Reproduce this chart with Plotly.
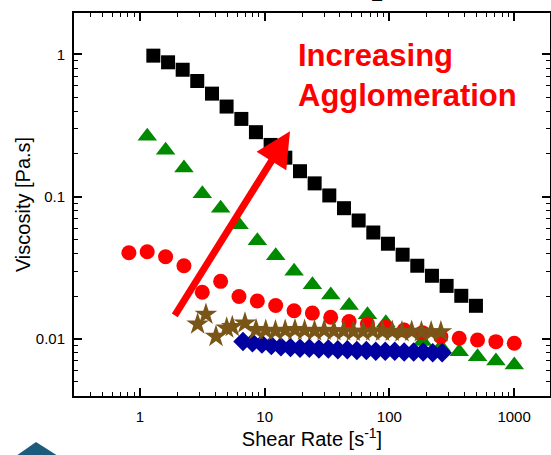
import numpy as np
import plotly.graph_objects as go

# ---------------- data ----------------
black_x = [1.28, 1.68, 2.20, 2.88, 3.78, 4.95, 6.50, 8.51, 11.16, 14.64, 19.19, 25.16,
           32.98, 43.24, 56.7, 74.3, 97.4, 127.7, 167.4, 219.5, 287.7, 377.2, 494.5]
black_y = [0.98, 0.88, 0.78, 0.65, 0.53, 0.43, 0.352, 0.284, 0.231, 0.188, 0.151, 0.124,
           0.102, 0.083, 0.068, 0.056, 0.0467, 0.0391, 0.0327, 0.0278, 0.0236, 0.0201, 0.0171]

green_x = [1.144, 1.606, 2.254, 3.162, 4.437, 6.228, 8.739, 12.26, 17.21, 24.15, 33.88,
           47.56, 66.73, 93.65, 131.4, 184.4, 258.9, 363.2, 509.6, 715.2, 1003.5]
green_y = [0.266, 0.212, 0.159, 0.105, 0.083, 0.0635, 0.049, 0.0385, 0.0299, 0.024, 0.0204,
           0.0172, 0.0148, 0.0130, 0.0114, 0.0096, 0.0088, 0.00814, 0.0075, 0.0070, 0.00656]

red_x = [0.815, 1.143, 1.605, 2.252, 3.159, 4.434, 6.222, 8.732, 12.25, 17.20, 24.13, 33.86,
         47.52, 66.68, 93.57, 131.3, 184.2, 258.6, 362.9, 509.2, 714.5, 1002.8]
red_y = [0.0404, 0.041, 0.0378, 0.0327, 0.0213, 0.0254, 0.0199, 0.0185, 0.0172, 0.0158,
         0.0152, 0.0142, 0.01324, 0.01276, 0.01208, 0.01157, 0.01107, 0.01038, 0.01011,
         0.00984, 0.00957, 0.00933]

star_x = [2.90, 3.38, 4.07, 4.96, 5.5, 6.95, 8.53, 10.2, 12.2, 14.6, 17.5, 20.9, 25.1, 30.0,
          35.9, 43.0, 51.4, 61.5, 73.6, 88.1, 105.4, 126.2, 151.0, 180.7, 216.3, 258.8]
star_y = [0.0127, 0.0149, 0.0104, 0.0119, 0.0122, 0.0129, 0.0116, 0.0115, 0.0114, 0.0115,
          0.0116, 0.0115, 0.0114, 0.0115, 0.0114, 0.0114, 0.0113, 0.0113, 0.0114, 0.0113,
          0.0113, 0.0112, 0.0113, 0.0112, 0.0112, 0.0112]

diam_x = [6.70, 7.98, 9.51, 11.3, 13.5, 16.1, 19.2, 22.8, 27.2, 32.4, 38.6, 46.0, 54.8,
          65.3, 77.8, 92.7, 110.4, 131.5, 156.7, 186.7, 222.4, 265.0]
diam_y = [0.0096, 0.0094, 0.0092, 0.0090, 0.0088, 0.0087, 0.0086, 0.0086, 0.0085, 0.0085,
          0.0084, 0.0084, 0.0083, 0.0083, 0.0082, 0.0082, 0.0082, 0.0081, 0.0081, 0.0081,
          0.0080, 0.0080]

x_ticks = [1, 10, 100, 1000]
y_ticks = [0.01, 0.1, 1]
y_tick_text = ["0.01", "0.1", "1"]

arrow_tail = (1.87, 0.0143)
arrow_tip = (15.96, 0.288)

FONT = "Liberation Sans, Arial, sans-serif"

fig = go.Figure()
series = [
    (black_x, black_y, "square", 14, "#000000"),
    (green_x, green_y, "triangle-up", 17, "#008a00"),
    (red_x, red_y, "circle", 15, "#ff0000"),
    (diam_x, diam_y, "diamond", 15, "#0000a0"),
    (star_x, star_y, "star", 17, "#7a5518"),
]
for xs, ys, sym, sz, col in series:
    fig.add_trace(go.Scatter(x=xs, y=ys, mode="markers",
                             marker=dict(symbol=sym, size=sz, color=col, line=dict(width=0)),
                             showlegend=False, cliponaxis=False))

minor_x = [m * 10.0 ** e for e in range(-1, 4) for m in range(2, 10)]
minor_y = [m * 10.0 ** e for e in range(-3, 1) for m in range(2, 10)]

axis_common = dict(type="log", showgrid=False, zeroline=False, showline=True,
                   linecolor="black", linewidth=2, mirror="allticks", ticks="inside",
                   ticklen=8, tickwidth=1.5, tickcolor="black",
                   tickfont=dict(family=FONT, size=15, color="black"))

fig.update_xaxes(**axis_common, range=[-0.529, 3.288], tickvals=x_ticks,
                 ticktext=[str(v) for v in x_ticks], ticklabelstandoff=6,
                 minor=dict(tickvals=minor_x, ticks="inside", ticklen=4, tickwidth=1.2,
                            tickcolor="black"),
                 title=dict(text="Shear Rate [s<sup>-1</sup>]",
                            font=dict(family=FONT, size=20, color="black"), standoff=7))
fig.update_yaxes(**axis_common, range=[-2.401, 0.291], tickvals=y_ticks,
                 ticktext=y_tick_text, ticklabelstandoff=4,
                 minor=dict(tickvals=minor_y, ticks="inside", ticklen=4, tickwidth=1.2,
                            tickcolor="black"),
                 title=dict(text="Viscosity [Pa.s]",
                            font=dict(family=FONT, size=20, color="black"), standoff=0))

fig.add_annotation(x=np.log10(arrow_tip[0]), y=np.log10(arrow_tip[1]),
                   ax=np.log10(arrow_tail[0]), ay=np.log10(arrow_tail[1]),
                   xref="x", yref="y", axref="x", ayref="y", text="",
                   showarrow=True, arrowhead=2, arrowsize=1.0, arrowwidth=7,
                   arrowcolor="#ff0000")
fig.add_annotation(x=(296 - 74) / 476, y=(396 - 36) / 383, xref="paper", yref="paper",
                   xanchor="left", yanchor="top", align="left", showarrow=False,
                   text="<b>Increasing<br>Agglomeration</b>",
                   font=dict(family=FONT, size=31, color="#ff0000"))
fig.add_annotation(x=(377 - 74) / 476, y=(396 - 8) / 383, xref="paper", yref="paper",
                   xanchor="center", yanchor="bottom", showarrow=False, text="2",
                   font=dict(family=FONT, size=22, color="black"))
fig.add_shape(type="path", xref="paper", yref="paper",
              path="M %f %f L %f %f L %f %f L %f %f Z" % (
                  (16 - 74) / 476, (396 - 456) / 383, (36 - 74) / 476, (396 - 442) / 383,
                  (58 - 74) / 476, (396 - 456) / 383, (58 - 74) / 476, (396 - 456) / 383),
              fillcolor="#1d5b7c", line=dict(width=0), layer="above")

fig.update_layout(width=551, height=455, margin=dict(l=74, r=1, t=13, b=59, autoexpand=False),
                  paper_bgcolor="white", plot_bgcolor="white",
                  font=dict(family=FONT, color="black"))
fig.write_html("out.html")
